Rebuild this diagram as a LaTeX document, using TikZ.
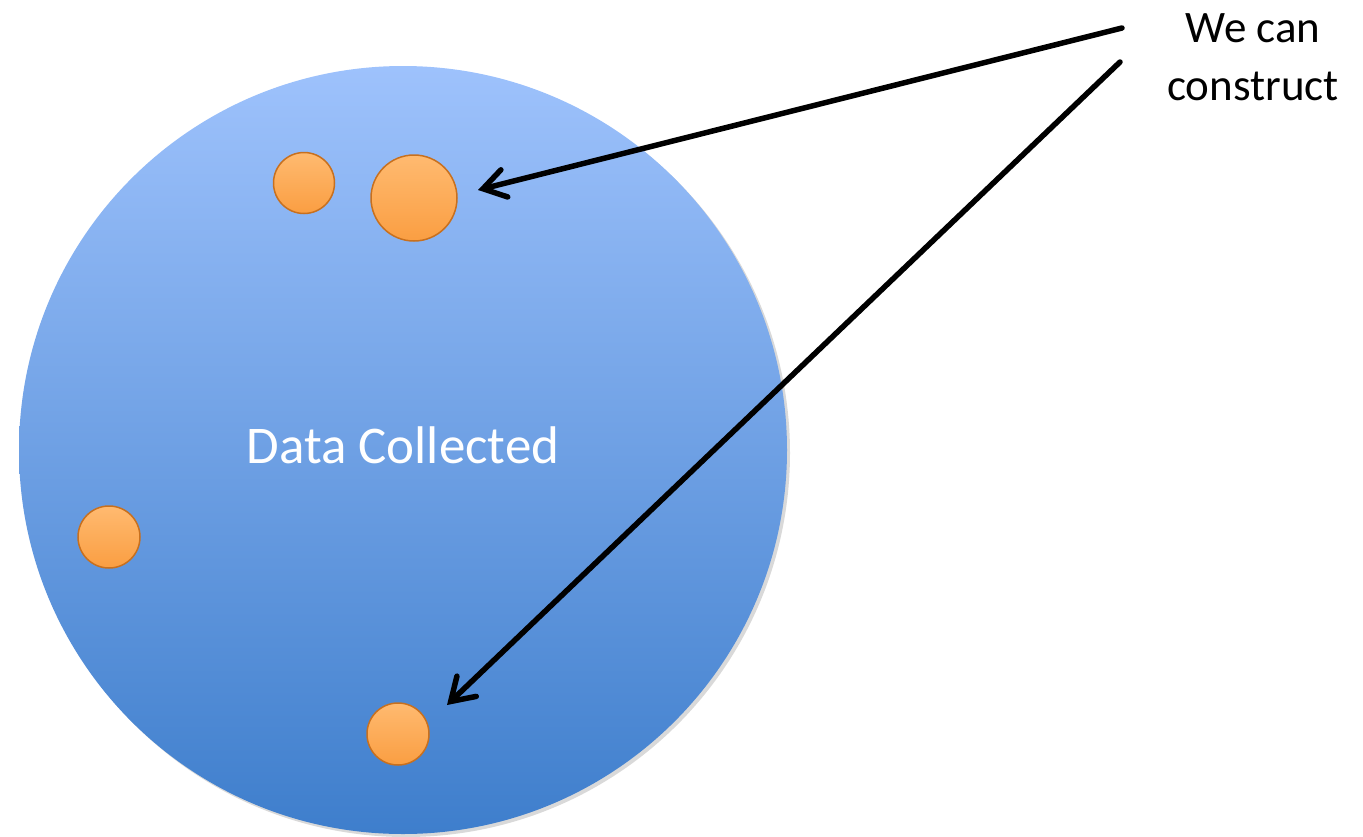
\documentclass[tikz,border=0pt]{standalone}
\usepackage{fontspec}
\setmainfont{Carlito}
\usetikzlibrary{arrows.meta}
\definecolor{poolTop}{RGB}{158,194,252}
\definecolor{poolBottom}{RGB}{62,126,204}
\definecolor{pebLight}{RGB}{255,186,112}
\definecolor{pebDark}{RGB}{250,158,66}
\definecolor{pebEdge}{RGB}{200,112,30}
\tikzset{
	pebble/.style={circle, inner sep=0pt, draw=pebEdge, line width=1.5pt,
		top color=pebLight, bottom color=pebDark},
	pointer/.style={line width=5.5pt, line cap=round,
		-{Straight Barb[length=22pt,width=28pt,line cap=round]}}
}
\begin{document}
\begin{tikzpicture}[x=1pt,y=-1pt]
		\useasboundingbox (0,0) rectangle (1363,836);
		
		\fill[black!15] (406,453) circle (384pt);
		\shade[top color=poolTop, bottom color=poolBottom] (403,450) circle (384pt);
		
		\node[pebble, minimum size=61pt] (pebA) at (304,183) {};
		\node[pebble, minimum size=86pt] (pebB) at (414,198) {};
		\node[pebble, minimum size=62pt] (pebC) at (109,537) {};
		\node[pebble, minimum size=62pt] (pebD) at (398,734) {};
		
		\node[white, anchor=base, inner sep=0pt, font=\fontsize{53}{60}\selectfont] (pool) at (403,463) {Data Collected};
		\node[anchor=north, align=center, inner sep=0pt, font=\fontsize{45}{58}\selectfont] (claim) at (1253,13) {We can\\construct};
		
		\coordinate (srcA) at (1122,28);
		\coordinate (srcB) at (1120,62);
		\coordinate (tipA) at (478,190);
		\coordinate (tipB) at (447,705);
		\draw[pointer] (srcA) -- (tipA);
		\draw[pointer] (srcB) -- (tipB);
		\end{tikzpicture}
\end{document}
